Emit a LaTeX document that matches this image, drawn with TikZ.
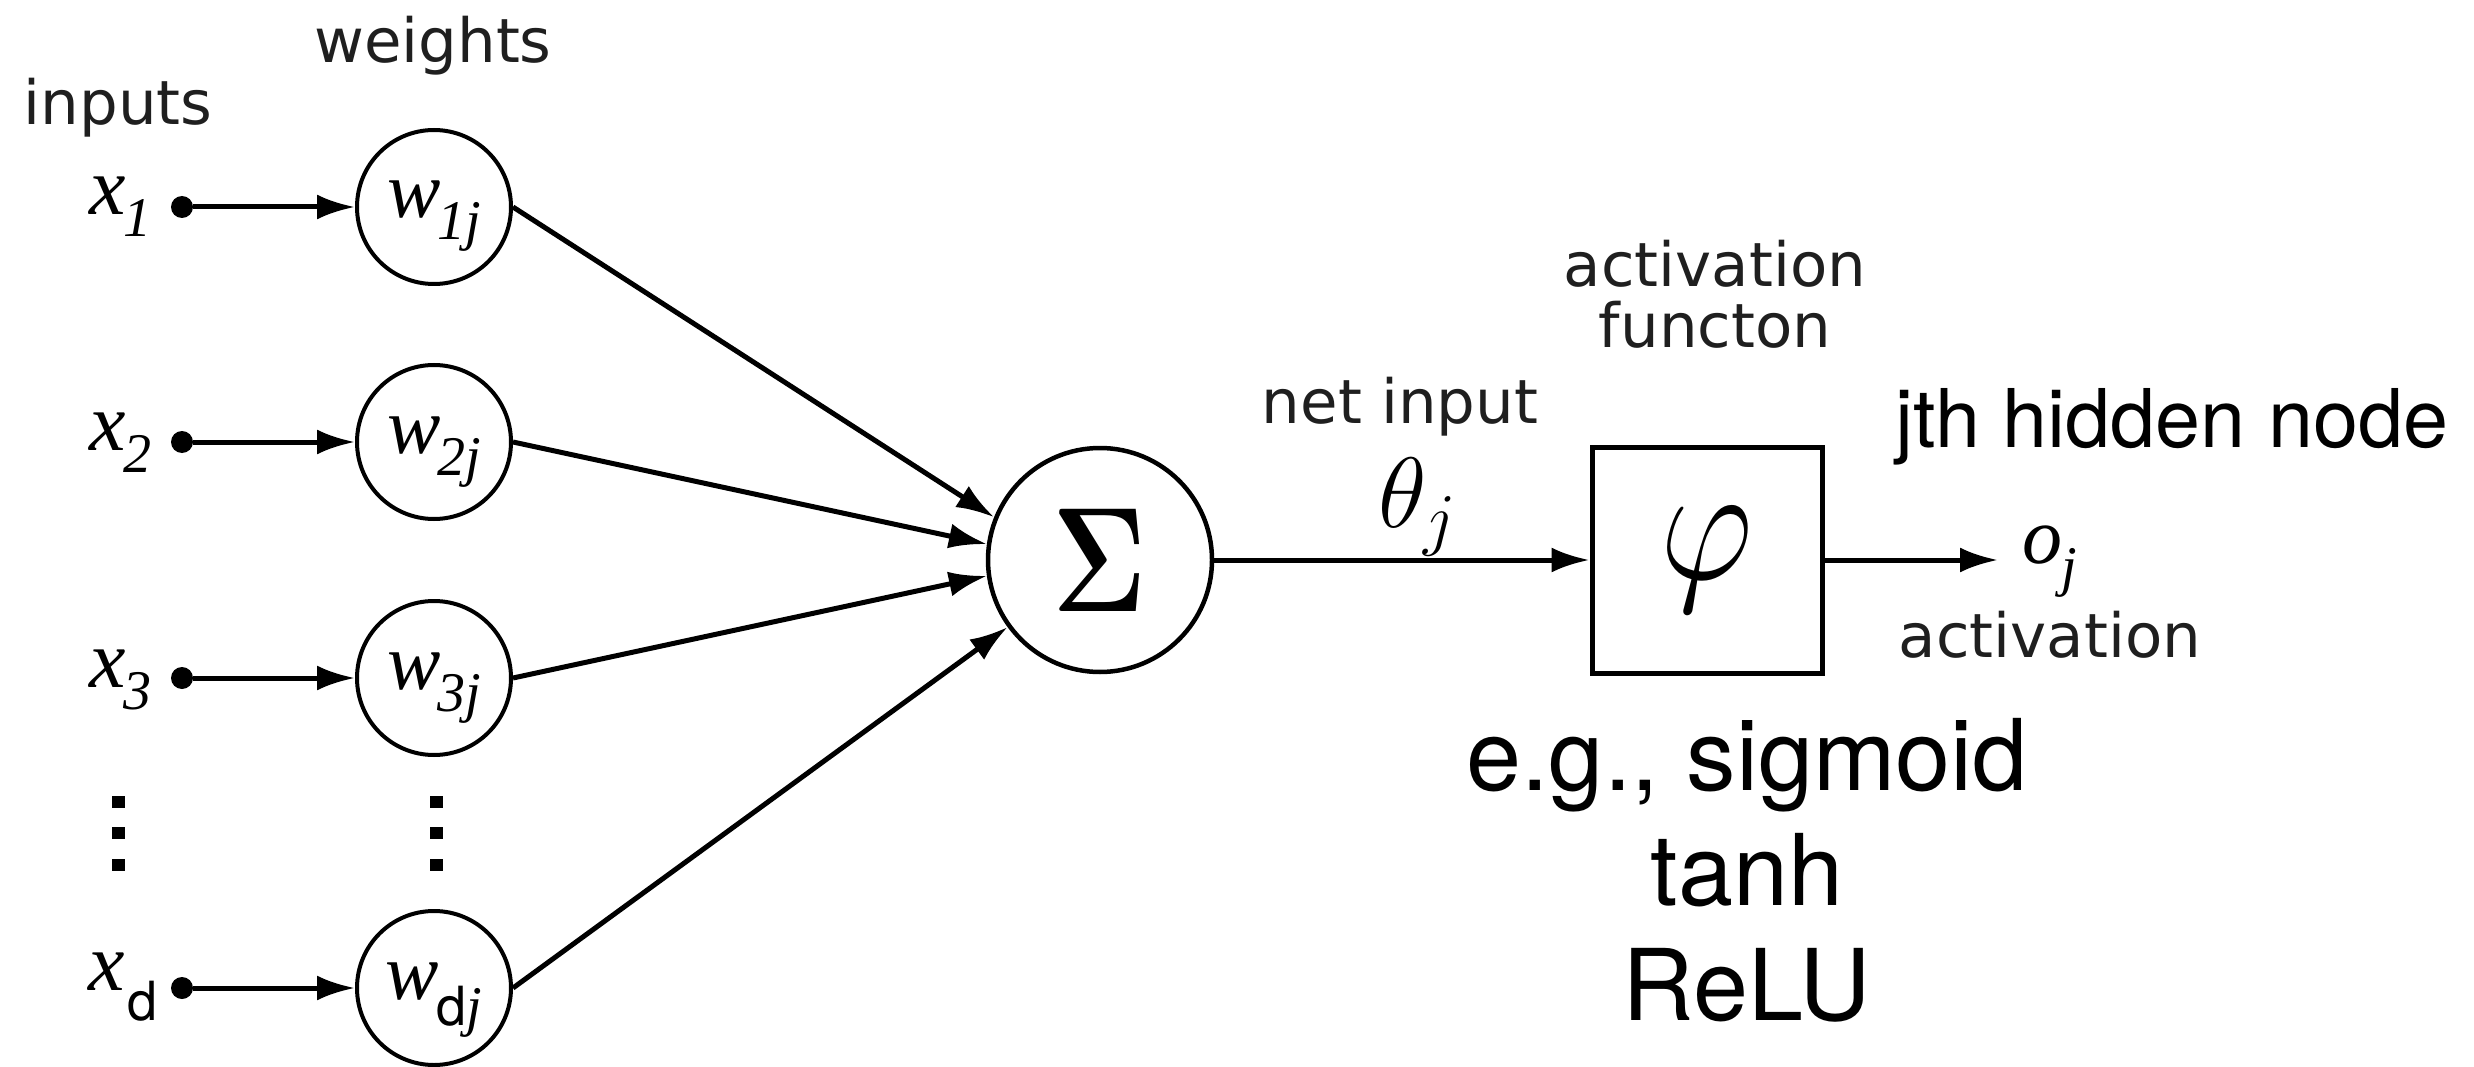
\RequirePackage{fix-cm}
\documentclass[tikz,border=0pt]{standalone}
\usepackage[no-math]{fontspec}
\setmainfont{DejaVu Sans}
\newfontfamily\helv{TeX Gyre Heros}
\newfontfamily\tms{Liberation Serif}
\usepackage{graphicx}
\usetikzlibrary{arrows.meta}

\newcommand{\xlab}[1]{{\tms\itshape\fontsize{82}{82}\selectfont x\kern-2pt\raisebox{-22pt}{\fontsize{56}{56}\selectfont #1}}}
\newcommand{\wlab}[1]{{\tms\itshape\fontsize{80}{80}\selectfont w\kern-3pt\raisebox{-22pt}{\fontsize{56}{56}\selectfont #1}}}

\tikzset{
  wnode/.style={draw, circle, line width=4pt, minimum size=154pt, inner sep=0pt,
                text height=36pt, text depth=14pt},
  sumnode/.style={draw, circle, line width=4.5pt, minimum size=224pt, inner sep=0pt},
  actbox/.style={draw, rectangle, line width=5pt, minimum width=230pt, minimum height=226pt, inner sep=0pt},
  lbl/.style={font=\fontsize{61}{61}\selectfont, inner sep=0pt, text=black!88},
  bigtxt/.style={font=\helv\fontsize{99}{99}\selectfont, inner sep=0pt},
  conn/.style={line width=5pt, -{Latex[length=38pt,width=25pt]}},
  indot/.style={circle, fill, minimum size=22pt, inner sep=0pt},
  vdot/.style={rectangle, fill, minimum width=13pt, minimum height=12pt, inner sep=0pt},
}

\begin{document}
\begin{tikzpicture}[x=1pt,y=-1pt]
\path[use as bounding box, fill=white] (0,0) rectangle (2474,1067);

% header labels
\node[lbl, anchor=base] (tweights) at (433,63) {weights};
\node[lbl, anchor=base] (tinputs) at (118,125) {inputs};

% input labels
\node[anchor=base east, inner sep=0pt] (x1) at (152,215) {\xlab{1}};
\node[anchor=base east, inner sep=0pt] (x2) at (152,450) {\xlab{2}};
\node[anchor=base east, inner sep=0pt] (x3) at (152,687) {\xlab{3}};
\node[anchor=base west, inner sep=0pt] (xd) at (88,990) {{\tms\itshape\fontsize{82}{82}\selectfont x}\kern3pt\raisebox{-30pt}{\helv\fontsize{54}{54}\selectfont d}};

% input dots
\node[indot] (d1) at (182,207) {};
\node[indot] (d2) at (182,442) {};
\node[indot] (d3) at (182,678) {};
\node[indot] (dd) at (182,988) {};

% weight circles
\node[wnode] (w1) at (434,207) {\wlab{1j}};
\node[wnode] (w2) at (434,442) {\wlab{2j}};
\node[wnode] (w3) at (434,678) {\wlab{3j}};
\node[wnode] (wd) at (434,988) {{\tms\itshape\fontsize{80}{80}\selectfont w}\kern-2pt\raisebox{-26pt}{\helv\fontsize{54}{54}\selectfont d}\raisebox{-26pt}{\tms\itshape\fontsize{56}{56}\selectfont j}};

% vertical dots
\foreach \yy [count=\i] in {802,833,865} {
  \node[vdot] (va\i) at (118,\yy) {};
  \node[vdot] (vb\i) at (436,\yy) {};
}

% summation
\node[sumnode] (sigma) at (1100,560) {\fontsize{149}{149}\selectfont\scalebox{0.78}[1]{$\mathbf{\Sigma}$}};

% activation box
\node[actbox] (phi) at (1707,560) {\fontsize{168}{168}\selectfont\scalebox{0.86}[1]{$\varphi$}};

% connectors
\draw[conn] (d1) -- (w1);
\draw[conn] (d2) -- (w2);
\draw[conn] (d3) -- (w3);
\draw[conn] (dd) -- (wd);

\draw[conn] (w1.east) -- (sigma.158);
\draw[conn] (w2.east) -- (sigma.172);
\draw[conn] (w3.east) -- (sigma.188);
\draw[conn] (wd.east) -- (sigma.216);

\draw[conn] (sigma) -- (phi);

\coordinate (otip) at (1998,560);
\draw[conn] (phi) -- (otip);

% net input labels
\node[lbl, anchor=base] (tnet) at (1400,423) {net input};
\node[anchor=base west, inner sep=0pt] (theta) at (1378,527) {\fontsize{100}{100}\selectfont$\theta_j$};

% activation function label
\node[lbl, anchor=base] (tact1) at (1715,287) {activation};
\node[lbl, anchor=base] (tact2) at (1715,348) {functon};

% output
\node[anchor=base west, inner sep=0pt] (oj) at (2022,563) {{\tms\itshape\fontsize{80}{80}\selectfont o\kern-1pt\raisebox{-22pt}{\fontsize{56}{56}\selectfont j}}};
\node[lbl, anchor=base] (tactout) at (2050,657) {activation};

\node[anchor=base west, inner sep=0pt, font=\helv\fontsize{81}{81}\selectfont] (thidden) at (1895,447) {jth hidden node};

% examples
\node[bigtxt, anchor=base] (teg) at (1747,790) {e.g., sigmoid};
\node[bigtxt, anchor=base] (ttanh) at (1747,905) {tanh};
\node[bigtxt, anchor=base] (trelu) at (1747,1020) {ReLU};
\end{tikzpicture}
\end{document}
